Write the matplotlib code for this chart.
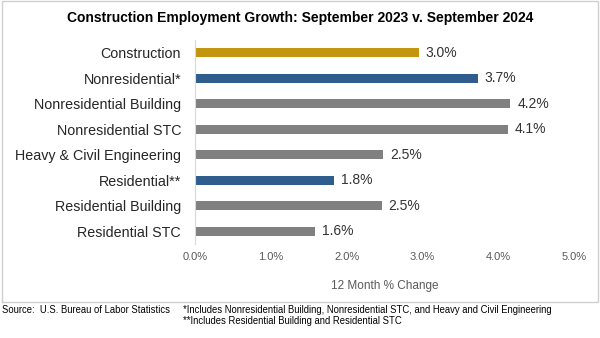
import matplotlib.pyplot as plt
from matplotlib.lines import Line2D

plt.rcParams['font.family'] = ['Liberation Sans', 'DejaVu Sans']

# data
categories = ['Construction', 'Nonresidential*', 'Nonresidential Building',
              'Nonresidential STC', 'Heavy & Civil Engineering', 'Residential**',
              'Residential Building', 'Residential STC']
pct_change = [2.95, 3.73, 4.16, 4.13, 2.48, 1.83, 2.46, 1.58]
bar_colors = ['#C4950F', '#2F5D8E', '#808080', '#808080',
              '#808080', '#2F5D8E', '#808080', '#808080']
x_ticks = [0, 1, 2, 3, 4, 5]

fig = plt.figure(figsize=(6, 3.38), dpi=100)
ax = fig.add_axes([0.325, 0.278, 0.632, 0.604])

y = list(range(len(categories)))
ax.barh(y, pct_change, height=0.36, color=bar_colors)
for yi, v in zip(y, pct_change):
    ax.text(v + 0.09, yi, f'{v:.1f}%', va='center', ha='left',
            fontsize=10, color='#333333')

ax.set_ylim(len(categories) - 0.5, -0.5)
ax.set_xlim(0, 5)
ax.set_yticks(y)
ax.set_yticklabels(categories, fontsize=10.3, color='#262626')
ax.set_xticks(x_ticks)
ax.set_xticklabels([f'{t:.1f}%' for t in x_ticks], fontsize=8, color='#595959')
ax.tick_params(axis='y', length=0, pad=10)
ax.tick_params(axis='x', length=0, pad=6)
ax.set_xlabel('12 Month % Change', fontsize=8.5, color='#595959', labelpad=13)

for s in ['top', 'right', 'bottom']:
    ax.spines[s].set_visible(False)
ax.spines['left'].set_color('#D9D9D9')

fig.text(0.5, 0.947, 'Construction Employment Growth: September 2023 v. September 2024',
         ha='center', va='center', fontsize=10, fontweight='bold')

# frame around the chart area
fig.add_artist(Line2D([0.003, 0.003, 0.997, 0.997, 0.003], [0.107, 0.997, 0.997, 0.107, 0.107],
                      transform=fig.transFigure, color='#D0D0D0', lw=1))

fig.text(0.003, 0.083, 'Source:  U.S. Bureau of Labor Statistics', fontsize=6.85, va='center')
fig.text(0.305, 0.083, '*Includes Nonresidential Building, Nonresidential STC, and Heavy and Civil Engineering',
         fontsize=6.85, va='center')
fig.text(0.305, 0.050, '**Includes Residential Building and Residential STC', fontsize=6.85, va='center')

fig.savefig('out.png', dpi=100)
